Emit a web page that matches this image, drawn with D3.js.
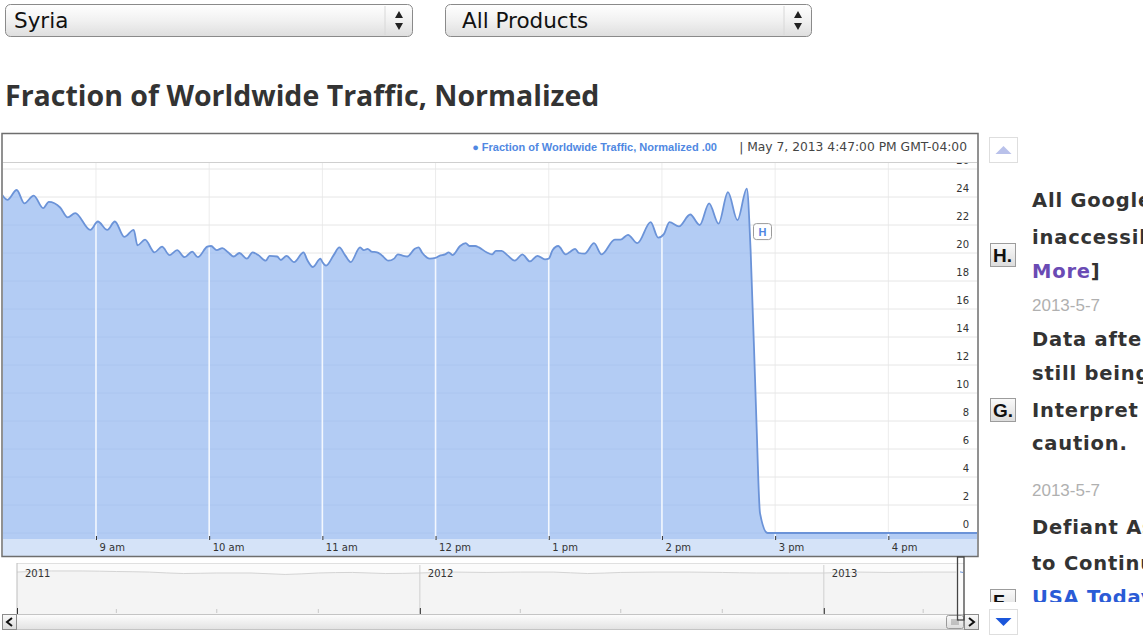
<!DOCTYPE html>
<html>
<head>
<meta charset="utf-8">
<script src="https://cdn.jsdelivr.net/npm/d3@7"></script>
<style>
  body { margin: 0; background: #fff; }
  svg { display: block; }
</style>
</head>
<body>
<div id="viz"></div>
<script>
// hourly traffic readings, May 7 2013 (local time)
const times = [
  '8:10', '8:13', '8:18', '8:22', '8:27', '8:32', '8:35', '8:41', '8:45', '8:49',
  '8:57', '9:01', '9:06', '9:10', '9:15', '9:20', '9:22', '9:26', '9:31', '9:35',
  '9:39', '9:43', '9:47', '9:51', '9:54', '9:59', '10:01', '10:04', '10:07', '10:10',
  '10:13', '10:16', '10:20', '10:23', '10:26', '10:30', '10:32', '10:36', '10:38', '10:41',
  '10:45', '10:50', '10:52', '10:55', '10:59', '11:00', '11:02', '11:06', '11:09', '11:12',
  '11:15', '11:20', '11:22', '11:24', '11:26', '11:29', '11:31', '11:35', '11:38', '11:40',
  '11:43', '11:45', '11:49', '11:51', '11:53', '11:57', '12:00', '12:02', '12:05', '12:07',
  '12:09', '12:13', '12:16', '12:18', '12:21', '12:23', '12:27', '12:30', '12:32', '12:35',
  '12:38', '12:42', '12:46', '12:50', '12:54', '12:58', '13:00', '13:02', '13:05', '13:09',
  '13:11', '13:14', '13:16', '13:19', '13:24', '13:28', '13:35', '13:38', '13:42', '13:47',
  '13:54', '13:58', '14:01', '14:04', '14:09', '14:15', '14:20', '14:25', '14:30', '14:35',
  '14:40', '14:45', '14:47', '14:50', '14:52', '14:56', '15:30', '16:00', '16:47'
];
const values = [
  24.2, 23.8, 24.5, 23.55, 24.1, 23.2, 23.65, 23.25, 22.55, 22.85,
  21.65, 22.25, 21.65, 22.25, 21.15, 21.65, 20.55, 20.95, 20.05, 20.45,
  19.85, 20.2, 19.7, 20.1, 19.7, 20.45, 20.5, 20.2, 20.35, 20.05,
  19.75, 20.0, 19.6, 20.05, 19.85, 19.45, 19.8, 19.75, 19.5, 19.8,
  19.35, 20.05, 19.5, 19.0, 19.6, 19.35, 19.1, 19.85, 20.4, 19.85,
  19.35, 20.4, 20.2, 20.3, 20.1, 20.05, 19.9, 19.45, 19.6, 19.9,
  19.8, 19.75, 20.3, 20.4, 20.0, 19.6, 19.65, 19.8, 19.9, 20.05,
  19.85, 20.5, 20.7, 20.5, 20.5, 20.4, 20.05, 19.9, 20.15, 20.15,
  19.85, 19.45, 19.9, 19.4, 19.8, 19.55, 19.6, 20.2, 20.5, 19.9,
  20.05, 20.3, 20.0, 19.95, 20.7, 19.9, 20.95, 20.95, 21.3, 20.7,
  22.2, 21.1, 21.35, 22.2, 21.9, 22.75, 22.0, 23.55, 22.1, 24.35,
  22.35, 24.6, 20.2, 8.3, 1.4, 0, 0, 0, 0
];
const yTicks = [0, 2, 4, 6, 8, 10, 12, 14, 16, 18, 20, 22, 24, 26];

// overview strip (monthly), Jan 2011 .. May 2013
const ovMonths = [
  '2011-01', '2011-02', '2011-03', '2011-04', '2011-05', '2011-06', '2011-07', '2011-08',
  '2011-09', '2011-10', '2011-11', '2011-12', '2012-01', '2012-02', '2012-03', '2012-04',
  '2012-05', '2012-06', '2012-07', '2012-08', '2012-09', '2012-10', '2012-11', '2012-12',
  '2013-01', '2013-02', '2013-03', '2013-04', '2013-05'
];
const ovValues = [
  21.7, 22.3, 22.3, 22.0, 21.7, 20.9, 21.2, 21.2, 20.4, 21.2, 21.5, 20.9, 21.2, 21.7, 21.5,
  21.7, 21.7, 20.9, 21.5, 21.7, 21.7, 21.5, 21.2, 21.2, 21.2, 21.7, 21.5, 21.7, 21.7
];
const yearLabels = ['2011', '2012', '2013'];

const countries = ['Syria'];
const products = ['All Products'];

const W = 1143, H = 642;
const sansFont = '"DejaVu Sans", Verdana, sans-serif';
const armFont = '"Liberation Sans", Arial, sans-serif';

const parseHM = d3.timeParse('%H:%M');
const parseHMS = d3.timeParse('%H:%M:%S');
const data = times.map((t, i) => ({ t: parseHM(t), v: values[i] }));

const svg = d3.select('#viz')
      .append('svg')
      .attr('width', W)
      .attr('height', H)
      .style('font-family', sansFont);

const defs = svg.append('defs');

function vgrad(id, stops) {
    const g = defs.append('linearGradient')
          .attr('id', id)
          .attr('x1', 0).attr('y1', 0).attr('x2', 0).attr('y2', 1);
    stops.forEach(s => g.append('stop').attr('offset', s[0]).attr('stop-color', s[1]));
}
vgrad('selGrad', [[0, '#ffffff'], [0.5, '#f1f1f1'], [1, '#dedede']]);
vgrad('scrollGrad', [[0, '#fdfdfd'], [1, '#e2e2e2']]);
vgrad('boxGrad', [[0, '#fafafa'], [1, '#dcdcdc']]);

// ---- select boxes at the top
function selectBox(x0, w, label, pad) {
    const g = svg.append('g').attr('transform', `translate(${x0} 4)`);
    g.append('rect')
        .attr('x', 0.5).attr('y', 0.5)
        .attr('width', w).attr('height', 32)
        .attr('rx', 5)
        .attr('fill', 'url(#selGrad)')
        .attr('stroke', '#8a8a8a');
    g.append('line')
        .attr('x1', w - 27).attr('x2', w - 27)
        .attr('y1', 2).attr('y2', 31)
        .attr('stroke', '#d8d8d8');
    g.append('text')
        .attr('x', pad).attr('y', 24)
        .attr('font-size', 21.5)
        .attr('fill', '#111')
        .text(label);
    const ax = w - 13;
    g.append('path')
        .attr('d', `M${ax - 4},14 L${ax + 4},14 L${ax},7 Z M${ax - 4},19 L${ax + 4},19 L${ax},26 Z`)
        .attr('fill', '#222');
}
selectBox(5, 407, countries[0], 9);
selectBox(445, 366, products[0], 17);

// ---- title
svg.append('text')
    .attr('x', 5).attr('y', 106)
    .attr('font-family', '"Open Sans", sans-serif')
    .attr('font-weight', 'bold')
    .attr('font-size', 28.5)
    .attr('fill', '#333')
    .text('Fraction of Worldwide Traffic, Normalized');

// ---- main chart
const plot = { left: 3, right: 977, top: 162, bottom: 539 };

const x = d3.scaleTime()
      .domain([parseHMS('8:10:43'), parseHMS('16:47:00')])
      .range([plot.left, plot.right]);
const y = d3.scaleLinear()
      .domain([0, 26])
      .range([533, 169]);

const hours = x.ticks(d3.timeHour.every(1));

defs.append('clipPath').attr('id', 'plotClip')
    .append('rect')
    .attr('x', plot.left).attr('y', plot.top)
    .attr('width', plot.right - plot.left).attr('height', plot.bottom - plot.top);

const area = d3.area()
      .x(d => x(d.t))
      .y0(plot.bottom)
      .y1(d => y(d.v))
      .curve(d3.curveMonotoneX);
const line = d3.line()
      .x(d => x(d.t))
      .y(d => y(d.v))
      .curve(d3.curveMonotoneX);

defs.append('clipPath').attr('id', 'areaClip')
    .append('path')
    .attr('d', area(data));

const chart = svg.append('g').attr('clip-path', 'url(#plotClip)');

chart.append('rect')
    .attr('x', plot.left).attr('y', plot.top)
    .attr('width', plot.right - plot.left).attr('height', plot.bottom - plot.top)
    .attr('fill', '#fff');

chart.selectAll('line.vgrid')
    .data(hours)
    .join('line')
    .attr('class', 'vgrid')
    .attr('x1', d => x(d)).attr('x2', d => x(d))
    .attr('y1', plot.top).attr('y2', plot.bottom)
    .attr('stroke', '#ececec');

chart.selectAll('line.hgrid')
    .data(yTicks)
    .join('line')
    .attr('class', 'hgrid')
    .attr('x1', plot.left).attr('x2', plot.right)
    .attr('y1', d => y(d)).attr('y2', d => y(d))
    .attr('stroke', '#e6e6e6');

chart.append('path')
    .attr('d', area(data))
    .attr('fill', '#b3ccf4');

const inArea = chart.append('g').attr('clip-path', 'url(#areaClip)');
inArea.selectAll('line')
    .data(yTicks)
    .join('line')
    .attr('x1', plot.left).attr('x2', plot.right)
    .attr('y1', d => y(d)).attr('y2', d => y(d))
    .attr('stroke', '#a9c2ec')
    .attr('stroke-opacity', 0.6);
inArea.selectAll('line.vw')
    .data(hours)
    .join('line')
    .attr('class', 'vw')
    .attr('x1', d => x(d)).attr('x2', d => x(d))
    .attr('y1', plot.top).attr('y2', plot.bottom)
    .attr('stroke', '#f3f7fe')
    .attr('stroke-width', 1.6);

chart.append('path')
    .attr('d', line(data))
    .attr('fill', 'none')
    .attr('stroke', '#6b93d8')
    .attr('stroke-width', 1.8);

// y labels on the right, sitting above each gridline
const yAxis = chart.append('g')
      .attr('transform', 'translate(969 0)')
      .call(d3.axisLeft(y).tickValues(yTicks).tickSize(0).tickPadding(0));
yAxis.select('.domain').remove();
yAxis.selectAll('text')
    .attr('dy', -6)
    .attr('font-family', sansFont)
    .attr('font-size', 10)
    .attr('fill', '#333');

// x axis band
svg.append('rect')
    .attr('x', plot.left).attr('y', plot.bottom)
    .attr('width', plot.right - plot.left).attr('height', 17)
    .attr('fill', '#d5e3f8');

const xAxis = svg.append('g')
      .attr('transform', 'translate(0 536)')
      .call(d3.axisBottom(x)
            .ticks(d3.timeHour.every(1))
            .tickSize(4)
            .tickFormat(d => d3.timeFormat('%-I %p')(d).toLowerCase()));
xAxis.select('.domain').remove();
xAxis.selectAll('line').attr('stroke', '#333');
xAxis.selectAll('text')
    .attr('text-anchor', 'start')
    .attr('x', 3)
    .attr('y', 15)
    .attr('dy', 0)
    .attr('font-family', sansFont)
    .attr('font-size', 10)
    .attr('fill', '#333');

// frame + legend row
svg.append('line')
    .attr('x1', plot.left).attr('x2', plot.right)
    .attr('y1', 162.5).attr('y2', 162.5)
    .attr('stroke', '#cfcfcf');
svg.append('rect')
    .attr('x', 2).attr('y', 133.5)
    .attr('width', 976).attr('height', 423)
    .attr('fill', 'none')
    .attr('stroke', '#6e6e6e')
    .attr('stroke-width', 1.5);

const legend = svg.append('text')
      .attr('x', 717).attr('y', 151)
      .attr('text-anchor', 'end')
      .attr('font-family', armFont)
      .attr('font-weight', 'bold')
      .attr('font-size', 11)
      .attr('fill', '#5088e2');
legend.text('\u25CF Fraction of Worldwide Traffic, Normalized .00');
svg.append('text')
    .attr('x', 967).attr('y', 151)
    .attr('text-anchor', 'end')
    .attr('font-size', 12.3)
    .attr('fill', '#444')
    .text('| May 7, 2013 4:47:00 PM GMT-04:00');

// annotation flag "H" right after the drop
const flagX = x(parseHM('14:48')) + 1;
const flag = svg.append('g').attr('transform', `translate(${flagX} ${y(22.1)})`);
flag.append('rect')
    .attr('x', 0).attr('y', 0)
    .attr('width', 18).attr('height', 16)
    .attr('rx', 3)
    .attr('fill', '#fff')
    .attr('stroke', '#9a9a9a');
flag.append('text')
    .attr('x', 9).attr('y', 12.5)
    .attr('text-anchor', 'middle')
    .attr('font-family', armFont)
    .attr('font-weight', 'bold')
    .attr('font-size', 11)
    .attr('fill', '#4f86e3')
    .text('H');

// ---- overview navigator
const nav = { left: 17, right: 964, top: 563, bottom: 614 };
const parseYM = d3.timeParse('%Y-%m');
const ovData = ovMonths.map((m, i) => ({ t: parseYM(m), v: ovValues[i] }));
const ox = d3.scaleTime()
      .domain([new Date(2011, 0, 1), new Date(2013, 4, 8)])
      .range([nav.left, nav.right]);
const oy = d3.scaleLinear().domain([0, 25]).range([612, 566]);

svg.append('rect')
    .attr('x', nav.left).attr('y', nav.top)
    .attr('width', nav.right - nav.left).attr('height', nav.bottom - nav.top)
    .attr('fill', '#fbfbfb');
svg.append('path')
    .attr('d', d3.area().x(d => ox(d.t)).y0(nav.bottom).y1(d => oy(d.v)).curve(d3.curveMonotoneX)(ovData))
    .attr('fill', '#f4f4f4');
svg.append('path')
    .attr('d', d3.line().x(d => ox(d.t)).y(d => oy(d.v)).curve(d3.curveMonotoneX)(ovData))
    .attr('fill', 'none')
    .attr('stroke', '#d4d4d4');
svg.append('line')
    .attr('x1', nav.left).attr('x2', nav.right)
    .attr('y1', nav.top + 0.5).attr('y2', nav.top + 0.5)
    .attr('stroke', '#e0e0e0');
svg.append('line')
    .attr('x1', nav.left).attr('x2', nav.left)
    .attr('y1', nav.top).attr('y2', nav.bottom)
    .attr('stroke', '#bdbdbd');

const years = yearLabels.map(s => d3.timeParse('%Y')(s));
const quarters = ox.ticks(d3.timeMonth.every(3));
svg.selectAll('line.q')
    .data(quarters)
    .join('line')
    .attr('class', 'q')
    .attr('x1', d => ox(d)).attr('x2', d => ox(d))
    .attr('y1', 609).attr('y2', 613)
    .attr('stroke', '#c8c8c8');
svg.selectAll('line.yr')
    .data(years.slice(1))
    .join('line')
    .attr('class', 'yr')
    .attr('x1', d => ox(d)).attr('x2', d => ox(d))
    .attr('y1', nav.top + 2).attr('y2', nav.bottom)
    .attr('stroke', '#cfcfcf');
svg.selectAll('line.yrt')
    .data(years)
    .join('line')
    .attr('class', 'yrt')
    .attr('x1', d => ox(d) + 0.5).attr('x2', d => ox(d) + 0.5)
    .attr('y1', 608).attr('y2', 614)
    .attr('stroke', '#333');
svg.selectAll('text.yr')
    .data(years)
    .join('text')
    .attr('class', 'yr')
    .attr('x', d => ox(d) + 8)
    .attr('y', 577)
    .attr('font-size', 10)
    .attr('fill', '#333')
    .text(d => d3.timeFormat('%Y')(d));

// scrollbar
svg.append('rect')
    .attr('x', 2.5).attr('y', 614.5)
    .attr('width', 975).attr('height', 15)
    .attr('fill', 'url(#scrollGrad)')
    .attr('stroke', '#c4c4c4');
function scrollBtn(x0, glyph) {
    svg.append('rect')
        .attr('x', x0 + 0.5).attr('y', 614.5)
        .attr('width', 14).attr('height', 15)
        .attr('fill', 'url(#boxGrad)')
        .attr('stroke', '#8c8c8c');
    svg.append('path')
        .attr('d', glyph === '<'
              ? `M${x0 + 10},618 L${x0 + 5},622 L${x0 + 10},626`
              : `M${x0 + 5},618 L${x0 + 10},622 L${x0 + 5},626`)
        .attr('fill', 'none')
        .attr('stroke', '#111')
        .attr('stroke-width', 2);
}
scrollBtn(2, '<');
scrollBtn(964, '>');
svg.append('rect')
    .attr('x', 946.5).attr('y', 615.5)
    .attr('width', 17).attr('height', 13)
    .attr('rx', 2)
    .attr('fill', 'url(#boxGrad)')
    .attr('stroke', '#9a9a9a');
[952, 954, 956, 958].forEach(gx => svg.append('line')
    .attr('x1', gx).attr('x2', gx).attr('y1', 619).attr('y2', 625)
    .attr('stroke', '#999'));

// selected window handle at far right
svg.append('rect')
    .attr('x', 957.5).attr('y', 557)
    .attr('width', 6.5).attr('height', 63)
    .attr('fill', 'none')
    .attr('stroke', '#444')
    .attr('stroke-width', 1.3);
svg.append('line')
    .attr('x1', 960).attr('x2', 963)
    .attr('y1', oy(21.8)).attr('y2', oy(21.5))
    .attr('stroke', '#6b93d8');

// ---- annotation panel on the right
function arrowBox(y0, up, color) {
    svg.append('rect')
        .attr('x', 989.5).attr('y', y0 + 0.5)
        .attr('width', 28).attr('height', 25)
        .attr('fill', '#fff')
        .attr('stroke', '#dedede');
    const cx = 1003.5, cy = y0 + 13;
    svg.append('path')
        .attr('d', up
              ? `M${cx - 8},${cy + 4} L${cx + 8},${cy + 4} L${cx},${cy - 4} Z`
              : `M${cx - 8},${cy - 4} L${cx + 8},${cy - 4} L${cx},${cy + 4} Z`)
        .attr('fill', color);
}
arrowBox(137, true, '#b9c1ea');
arrowBox(609, false, '#1b56db');

defs.append('clipPath').attr('id', 'panelClip')
    .append('rect')
    .attr('x', 985).attr('y', 165)
    .attr('width', 160).attr('height', 437);
const panel = svg.append('g').attr('clip-path', 'url(#panelClip)');

function letterBox(y0, label) {
    panel.append('rect')
        .attr('x', 990.5).attr('y', y0 + 0.5)
        .attr('width', 25).attr('height', 23)
        .attr('fill', 'url(#boxGrad)')
        .attr('stroke', '#9c9c9c');
    panel.append('text')
        .attr('x', 993).attr('y', y0 + 19)
        .attr('font-family', armFont)
        .attr('font-weight', 'bold')
        .attr('font-size', 19)
        .attr('fill', '#111')
        .text(label);
}
letterBox(243, 'H.');
letterBox(398, 'G.');
letterBox(589, 'F.');

// text lines run past the window edge, as in the original page
const noteLines = [
    { y: 207, text: 'All Google', color: '#333', bold: true },
    { y: 244, text: 'inaccessible', color: '#333', bold: true },
    { y: 278, text: 'More', color: '#6a4bb4', bold: true, tail: ']' },
    { y: 311, text: '2013-5-7', color: '#b0b0b0', bold: false },
    { y: 346, text: 'Data after', color: '#333', bold: true },
    { y: 380, text: 'still being', color: '#333', bold: true },
    { y: 417, text: 'Interpret this', color: '#333', bold: true },
    { y: 450, text: 'caution.', color: '#333', bold: true },
    { y: 496, text: '2013-5-7', color: '#b0b0b0', bold: false },
    { y: 534, text: 'Defiant Assad', color: '#333', bold: true },
    { y: 570, text: 'to Continue', color: '#333', bold: true },
    { y: 604, text: 'USA Today', color: '#2a5bd6', bold: true }
];
noteLines.forEach(n => {
    const t = panel.append('text')
          .attr('x', 1032).attr('y', n.y)
          .attr('font-family', n.bold ? sansFont : armFont)
          .attr('font-weight', n.bold ? 'bold' : 'normal')
          .attr('font-size', n.bold ? 19.5 : 17)
          .attr('letter-spacing', n.bold ? 0.8 : 0)
          .attr('fill', n.color)
          .text(n.text);
    if (n.tail) t.append('tspan').attr('fill', '#333').text(n.tail);
});
</script>
</body>
</html>
